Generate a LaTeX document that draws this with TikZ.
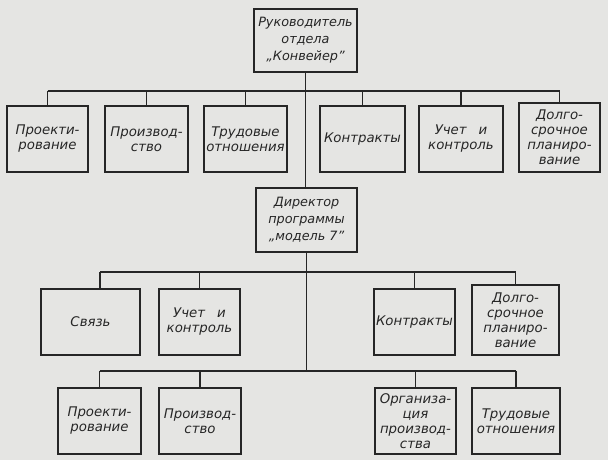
\documentclass[tikz,border=0pt]{standalone}
\usepackage{fontspec}
\setmainfont{DejaVu Sans}
\definecolor{paper}{RGB}{229,229,227}
\definecolor{ink}{RGB}{38,38,38}
\tikzset{
  box/.style={draw=ink, line width=1.4pt, inner sep=0pt, align=center,
    font=\itshape\fontsize{13.3}{15}\selectfont, text=ink},
  bigbox/.style={font=\itshape\fontsize{12.8}{17}\selectfont},
  link/.style={draw=ink, line width=1.4pt},
}
% name, x1, y1, x2, y2, extra options, text
\newcommand\mybox[7]{%
  \node[box, #6, minimum width={(#4-#2)*1pt}, minimum height={(#5-#3)*1pt}]
    (#1) at ({(#2+#4)/2},{(#3+#5)/2}) {#7};}
\begin{document}
\begin{tikzpicture}[x=1pt,y=-1pt]
\fill[paper] (0,0) rectangle (608,460);
\useasboundingbox (0,0) rectangle (608,460);

\mybox{top}{254}{9}{357}{72}{bigbox}{Руководитель\\отдела\\„Конвейер”}

\mybox{r1a}{7}{106}{88}{172}{}{Проекти-\\рование}
\mybox{r1b}{105}{106}{188}{172}{}{Производ-\\ство}
\mybox{r1c}{204}{106}{287}{172}{}{Трудовые\\отношения}
\mybox{r1d}{320}{106}{405}{172}{}{Контракты}
\mybox{r1e}{419}{106}{503}{172}{}{Учет\hspace{0.9em}и\\контроль}
\mybox{r1f}{519}{103}{600}{172}{}{Долго-\\срочное\\планиро-\\вание}

\mybox{dir}{256}{188}{357}{252}{bigbox}{Директор\\программы\\„модель 7”}

\mybox{r2a}{41}{289}{140}{355}{}{Связь}
\mybox{r2b}{159}{289}{240}{355}{}{Учет\hspace{0.9em}и\\контроль}
\mybox{r2c}{374}{289}{455}{355}{}{Контракты}
\mybox{r2d}{472}{285}{559}{355}{}{Долго-\\срочное\\планиро-\\вание}

\mybox{r3a}{58}{388}{141}{454}{}{Проекти-\\рование}
\mybox{r3b}{159}{388}{241}{454}{}{Производ-\\ство}
\mybox{r3c}{375}{388}{456}{454}{}{Организа-\\ция\\производ-\\ства}
\mybox{r3d}{472}{388}{560}{454}{}{Трудовые\\отношения}

\coordinate (j1) at (0,91);
\coordinate (j2) at (100,272);
\coordinate (j3) at (0,371);

% trunks
\draw[link] (top.south) -- (top.south |- dir.north);
\draw[link] (dir.south) -- (dir.south |- j3);

% bus 1
\draw[link] (r1a.north |- j1) -- (r1f.north |- j1);
\foreach \n in {r1a,r1b,r1c,r1d,r1e,r1f}
  \draw[link] (\n.north) -- (\n.north |- j1);

% bus 2
\draw[link] (j2) -- (r2d.north |- j2);
\draw[link] (j2) -- (j2 |- r2a.north);
\foreach \n in {r2b,r2c,r2d}
  \draw[link] (\n.north) -- (\n.north |- j2);

% bus 3
\draw[link] (r3a.north |- j3) -- (r3d.north |- j3);
\foreach \n in {r3a,r3b,r3c,r3d}
  \draw[link] (\n.north) -- (\n.north |- j3);
\end{tikzpicture}
\end{document}
